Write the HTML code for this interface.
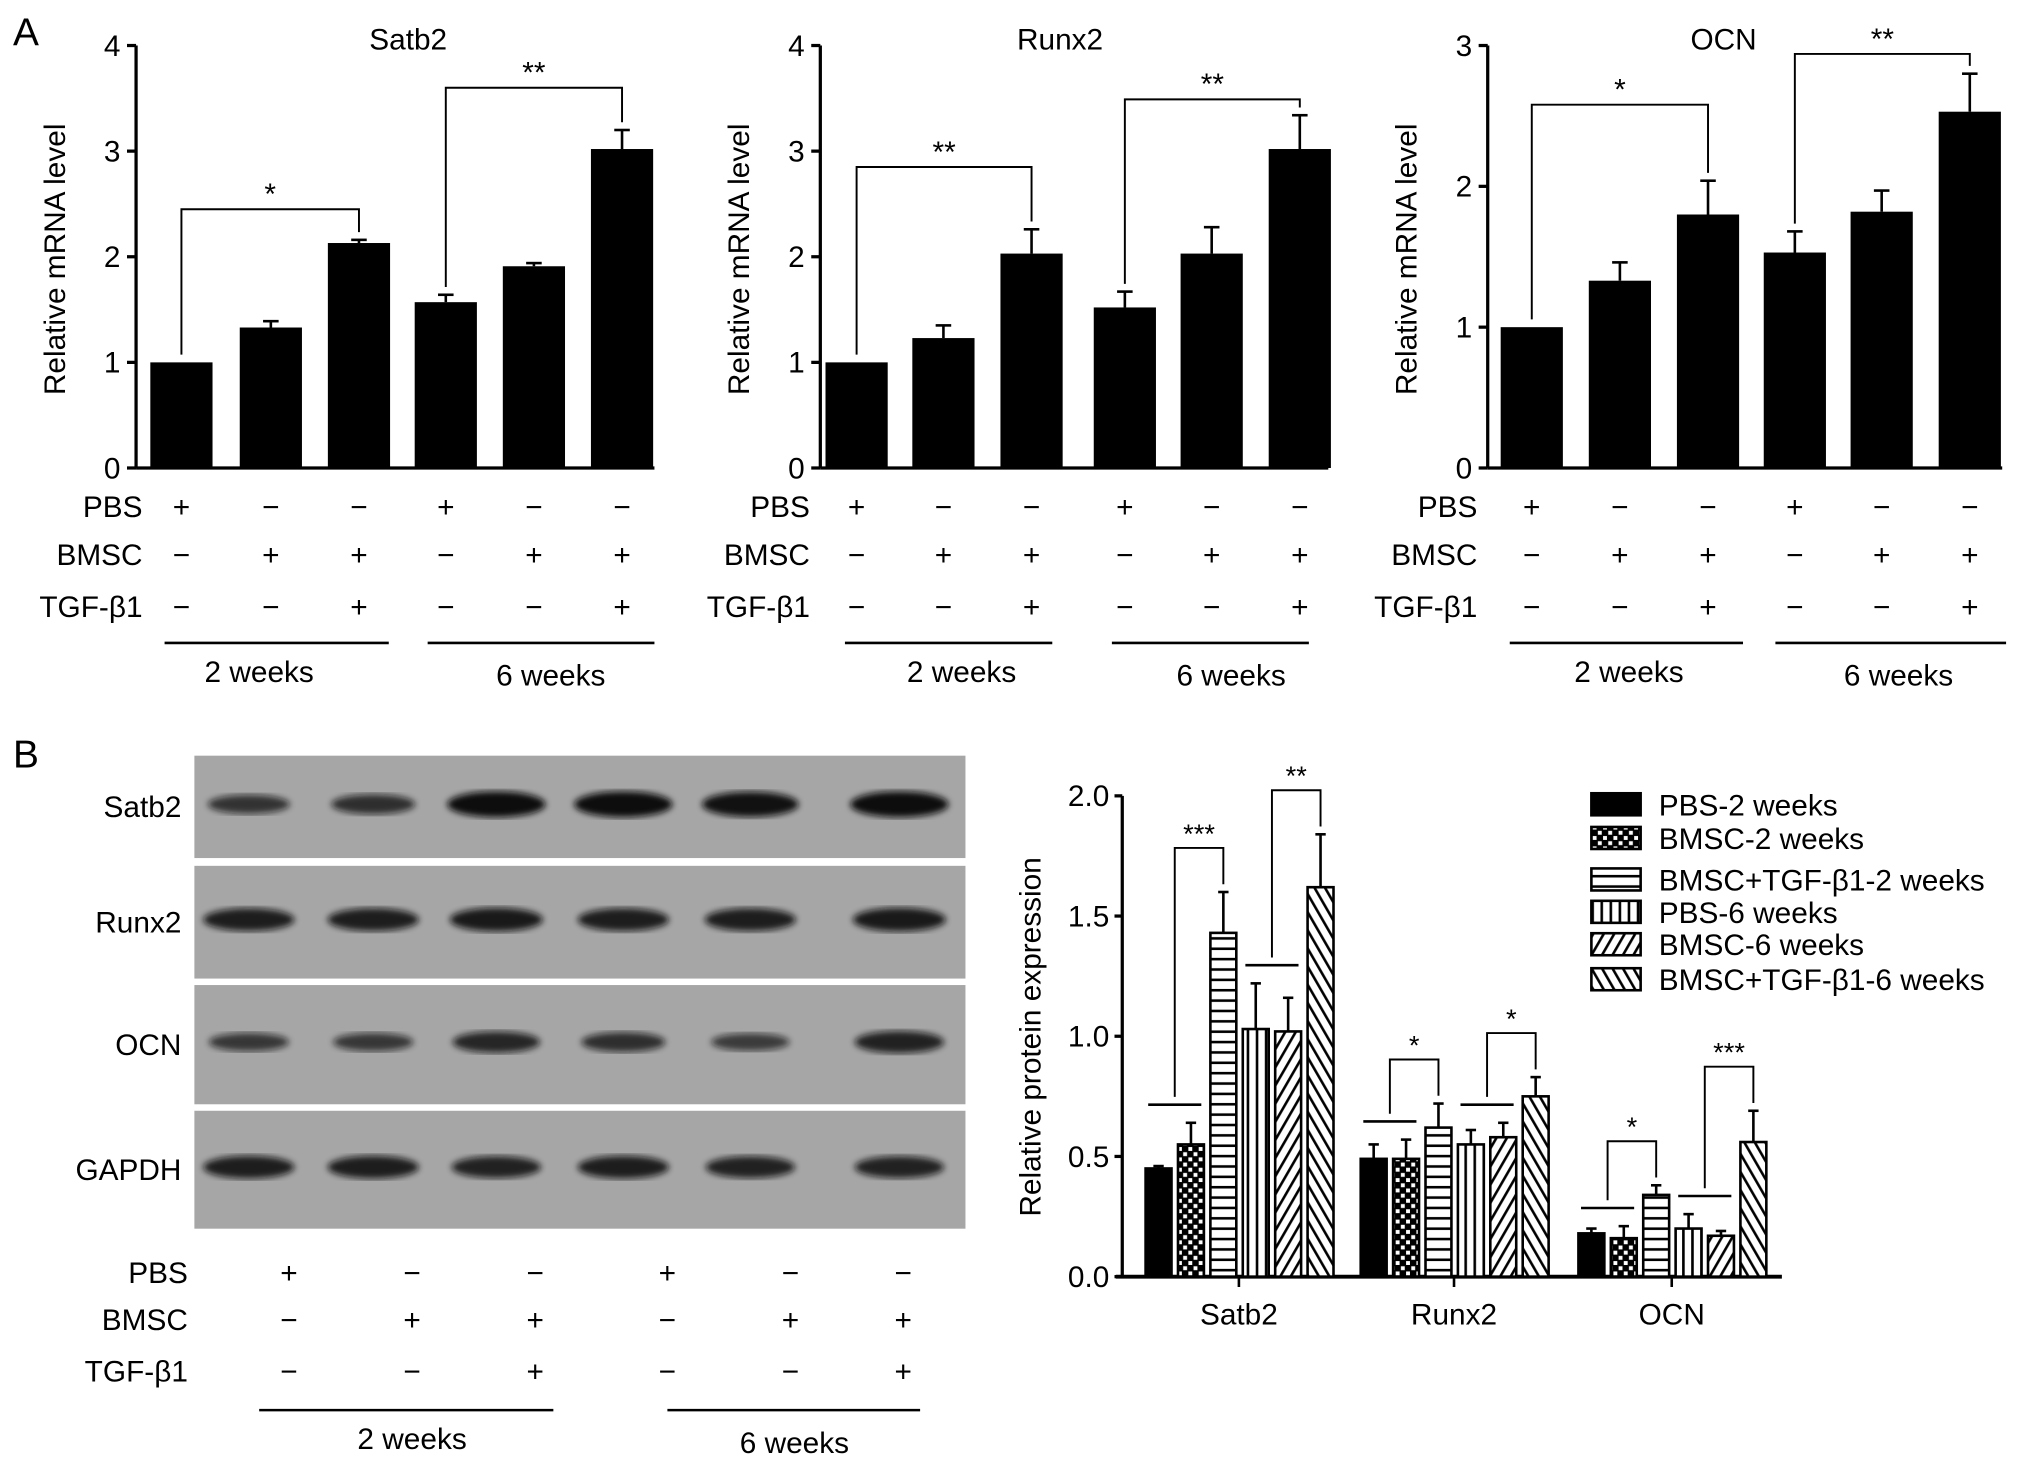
<!DOCTYPE html>
<html><head><meta charset="utf-8"><style>
html,body{margin:0;padding:0;background:#fff}
svg{display:block;font-family:"Liberation Sans",sans-serif}
</style></head><body>
<svg id="fig" width="2032" height="1466" viewBox="0 0 1568 1131" xmlns="http://www.w3.org/2000/svg">
<defs>
<pattern id="pChk" width="8" height="8" patternUnits="userSpaceOnUse"><rect width="8" height="8" fill="#000"/><rect x="1" y="1" width="3" height="3" fill="#fff"/><rect x="5" y="5" width="3" height="3" fill="#fff"/></pattern>
<pattern id="pH" width="8" height="8" patternUnits="userSpaceOnUse"><rect width="8" height="8" fill="#fff"/><rect y="3" width="8" height="2" fill="#000"/></pattern>
<pattern id="pV" width="7" height="8" patternUnits="userSpaceOnUse"><rect width="7" height="8" fill="#fff"/><rect x="3" width="2" height="8" fill="#000"/></pattern>
<pattern id="pD1" width="7" height="7" patternUnits="userSpaceOnUse" patternTransform="rotate(30)"><rect width="7" height="7" fill="#fff"/><rect x="3" width="2" height="7" fill="#000"/></pattern>
<pattern id="pD2" width="7" height="7" patternUnits="userSpaceOnUse" patternTransform="rotate(-30)"><rect width="7" height="7" fill="#fff"/><rect x="3" width="2" height="7" fill="#000"/></pattern>
<filter id="blur"><feGaussianBlur stdDeviation="2.5"/></filter>
</defs>
<text x="10" y="35" font-size="30">A</text>
<text x="10" y="592" font-size="30">B</text>
<g id="gA"></g>
<g id="gBlot"></g>
<g id="gB"></g>
</svg>
<script>
// ---- Panel A data ----
const mrnaTitles = ["Satb2","Runx2","OCN"];
const satb2Vals = [1, 1.33, 2.13, 1.57, 1.91, 3.02];
const satb2Err = [0, 0.06, 0.03, 0.07, 0.03, 0.18];
const runx2Vals = [1, 1.23, 2.03, 1.52, 2.03, 3.02];
const runx2Err = [0, 0.12, 0.23, 0.15, 0.25, 0.32];
const ocnVals = [1, 1.33, 1.80, 1.53, 1.82, 2.53];
const ocnErr = [0, 0.13, 0.24, 0.15, 0.15, 0.27];
const satb2Ticks = [0,1,2,3,4];
const runx2Ticks = [0,1,2,3,4];
const ocnTicks = [0,1,2,3];
const pbsSigns = ["+","\u2212","\u2212","+","\u2212","\u2212"];
const bmscSigns = ["\u2212","+","+","\u2212","+","+"];
const tgfSigns = ["\u2212","\u2212","+","\u2212","\u2212","+"];
// [label, fromBar, toBar, bracket level in data units]
const satb2Sig = [["*",0,2,2.45],["**",3,5,3.6]];
const runx2Sig = [["**",0,2,2.85],["**",3,5,3.49]];
const ocnSig = [["*",0,2,2.58],["**",3,5,2.94]];
// ---- Panel B data ----
const protCats = ["Satb2","Runx2","OCN"];
const protSeries = ["PBS-2 weeks","BMSC-2 weeks","BMSC+TGF-\u03b21-2 weeks","PBS-6 weeks","BMSC-6 weeks","BMSC+TGF-\u03b21-6 weeks"];
const protSatb2 = [0.45, 0.55, 1.43, 1.03, 1.02, 1.62];
const protSatb2Err = [0.01, 0.09, 0.17, 0.19, 0.14, 0.22];
const protRunx2 = [0.49, 0.49, 0.62, 0.55, 0.58, 0.75];
const protRunx2Err = [0.06, 0.08, 0.10, 0.06, 0.06, 0.08];
const protOcn = [0.18, 0.16, 0.34, 0.20, 0.17, 0.56];
const protOcnErr = [0.02, 0.05, 0.04, 0.06, 0.02, 0.13];
const protTicks = [0, 0.5, 1.0, 1.5, 2.0];
const protSig = [["***","**"],["*","*"],["*","***"]];
const blotRows = ["Satb2","Runx2","OCN","GAPDH"];
const blotIntensity = [[0.55,0.6,1,1,0.95,1],[0.8,0.8,0.85,0.8,0.8,0.85],[0.5,0.5,0.7,0.6,0.45,0.75],[0.8,0.8,0.75,0.8,0.75,0.75]];

const NS="http://www.w3.org/2000/svg";
function mk(parent,tag,attrs,text){const e=document.createElementNS(NS,tag);for(const k in attrs)e.setAttribute(k,attrs[k]);if(text!==undefined)e.textContent=text;parent.appendChild(e);return e;}
const FS=23;

// ---- Panel A charts ----
const gA=document.getElementById('gA');
const aCfg=[
 {ax:105,xs:[140,209,277,344,412,480],xe:505,max:4,vals:satb2Vals,err:satb2Err,ticks:satb2Ticks,sig:satb2Sig,lbl:110,lines:[[127,300,200],[330,505,425]],tx:315},
 {ax:633,xs:[661,728,796,868,935,1003],xe:1025,max:4,vals:runx2Vals,err:runx2Err,ticks:runx2Ticks,sig:runx2Sig,lbl:625,lines:[[652,812,742],[858,1010,950]],tx:818},
 {ax:1148,xs:[1182,1250,1318,1385,1452,1520],xe:1545,max:3,vals:ocnVals,err:ocnErr,ticks:ocnTicks,sig:ocnSig,lbl:1140,lines:[[1165,1345,1257],[1370,1548,1465]],tx:1330}
];
aCfg.forEach((c,ci)=>{
  const g=mk(gA,'g',{});
  
  
  const y0=361,yT=35;
  const Y=v=>y0-(v/c.max)*(y0-yT);
  const t=mk(g,'text',{x:c.tx,y:38,'font-size':FS,'text-anchor':'middle'},mrnaTitles[ci]);
  
  
  const yl=mk(g,'text',{x:0,y:0,'font-size':FS,'text-anchor':'middle',transform:`translate(${c.ax-55},200) rotate(-90)`},'Relative mRNA level');
  
  
  mk(g,'line',{x1:c.ax,y1:yT,x2:c.ax,y2:y0,stroke:'#000','stroke-width':2.5});
  mk(g,'line',{x1:c.ax,y1:y0,x2:c.xe,y2:y0,stroke:'#000','stroke-width':2.5});
  c.ticks.forEach(tv=>{
    mk(g,'line',{x1:c.ax-7,y1:Y(tv),x2:c.ax,y2:Y(tv),stroke:'#000','stroke-width':2.5});
    const tl=mk(g,'text',{x:c.ax-12,y:Y(tv)+8,'font-size':FS,'text-anchor':'end'},String(tv));
    
    
  });
  c.vals.forEach((v,i)=>{
    const x=c.xs[i];
    if(c.err[i]>0){mk(g,'line',{x1:x,y1:Y(v),x2:x,y2:Y(v+c.err[i]),stroke:'#000','stroke-width':2});mk(g,'line',{x1:x-6,y1:Y(v+c.err[i]),x2:x+6,y2:Y(v+c.err[i]),stroke:'#000','stroke-width':2});}
    const b=mk(g,'rect',{x:x-24,y:Y(v),width:48,height:y0-Y(v),fill:'#000'});
    
    
  });
  c.sig.forEach(s=>{
    const a=s[1],b=s[2];
    const ta=Y(c.vals[a]+c.err[a])-6, tb=Y(c.vals[b]+c.err[b])-6;
    const top=Y(s[3]);
    mk(g,'polyline',{points:`${c.xs[a]},${ta} ${c.xs[a]},${top} ${c.xs[b]},${top} ${c.xs[b]},${tb}`,fill:'none',stroke:'#000','stroke-width':1.5});
    const st=mk(g,'text',{x:(c.xs[a]+c.xs[b])/2,y:top-4,'font-size':FS,'text-anchor':'middle'},s[0]);
    
    
  });
  [["PBS",pbsSigns,399],["BMSC",bmscSigns,436],["TGF-\u03b21",tgfSigns,476]].forEach(r=>{
    const rl=mk(g,'text',{x:c.lbl,y:r[2],'font-size':FS,'text-anchor':'end'},r[0]);
    
    
    r[1].forEach((s,i)=>mk(g,'text',{x:c.xs[i],y:r[2],'font-size':FS,'text-anchor':'middle'},s));
  });
  c.lines.forEach((l,li)=>{
    mk(g,'line',{x1:l[0],y1:496,x2:l[1],y2:496,stroke:'#000','stroke-width':2});
    const wl=mk(g,'text',{x:l[2],y:li?529:526,'font-size':FS,'text-anchor':'middle'},li?'6 weeks':'2 weeks');
    
    
  });
});

// ---- Western blot ----
const gBl=document.getElementById('gBlot');
const rowsY=[[583,662],[668,755],[760,852],[857,948]];
const bandX=[192,288,383,481,579,694];
blotRows.forEach((n,ri)=>{
  const [a,b]=rowsY[ri];
  const r=mk(gBl,'rect',{x:150,y:a,width:595,height:b-a,fill:'#a6a6a6'});
  
  
  const lab=mk(gBl,'text',{x:140,y:(a+b)/2+8,'font-size':FS,'text-anchor':'end'},n);
  
  
  blotIntensity[ri].forEach((k,i)=>{
    const cy=(a+b)/2-2, w=24+k*14, h=8+k*12;
    mk(gBl,'ellipse',{cx:bandX[i],cy:cy,rx:w,ry:h/2,fill:'#111',opacity:0.45+0.55*k,filter:'url(#blur)'});
  });
});
const sx=[223,318,413,515,610,697];
[["PBS",pbsSigns,990],["BMSC",bmscSigns,1026],["TGF-\u03b21",tgfSigns,1066]].forEach(r=>{
  const rl=mk(gBl,'text',{x:145,y:r[2],'font-size':FS,'text-anchor':'end'},r[0]);
  
  
  r[1].forEach((s,i)=>mk(gBl,'text',{x:sx[i],y:r[2],'font-size':FS,'text-anchor':'middle'},s));
});
mk(gBl,'line',{x1:200,y1:1088,x2:427,y2:1088,stroke:'#000','stroke-width':2});
mk(gBl,'line',{x1:515,y1:1088,x2:710,y2:1088,stroke:'#000','stroke-width':2});
mk(gBl,'text',{x:318,y:1118,'font-size':FS,'text-anchor':'middle'},'2 weeks');
mk(gBl,'text',{x:613,y:1121,'font-size':FS,'text-anchor':'middle'},'6 weeks');

// ---- Panel B bar chart ----
const gB=document.getElementById('gB');
const bx0=866,by0=985,byT=614,bxe=1375;
const BY=v=>by0-(v/2)*(by0-byT);
const groupCenters=[956,1122,1290];
const barOff=[-62,-37,-12,13,38,63];
const fills=['#000','url(#pChk)','url(#pH)','url(#pV)','url(#pD1)','url(#pD2)'];
const pVals=[protSatb2,protRunx2,protOcn], pErr=[protSatb2Err,protRunx2Err,protOcnErr];
mk(gB,'line',{x1:bx0,y1:byT,x2:bx0,y2:by0,stroke:'#000','stroke-width':2.5});
mk(gB,'line',{x1:bx0-5,y1:by0,x2:bxe,y2:by0,stroke:'#000','stroke-width':3});
protTicks.forEach(tv=>{
  mk(gB,'line',{x1:bx0-6,y1:BY(tv),x2:bx0,y2:BY(tv),stroke:'#000','stroke-width':2.5});
  const tl=mk(gB,'text',{x:bx0-10,y:BY(tv)+8,'font-size':FS,'text-anchor':'end'},tv.toFixed(1));
  
  
});
const yt=mk(gB,'text',{x:0,y:0,'font-size':FS,'text-anchor':'middle',transform:'translate(803,800) rotate(-90)'},'Relative protein expression');


protCats.forEach((cat,gi)=>{
  const gc=groupCenters[gi];
  mk(gB,'line',{x1:gc,y1:by0,x2:gc,y2:by0+8,stroke:'#000','stroke-width':2});
  const cl=mk(gB,'text',{x:gc,y:1022,'font-size':FS,'text-anchor':'middle'},cat);
  
  
  pVals[gi].forEach((v,i)=>{
    const x=gc+barOff[i], e=pErr[gi][i];
    mk(gB,'line',{x1:x,y1:BY(v),x2:x,y2:BY(v+e),stroke:'#000','stroke-width':2});
    mk(gB,'line',{x1:x-4,y1:BY(v+e),x2:x+4,y2:BY(v+e),stroke:'#000','stroke-width':2});
    const b=mk(gB,'rect',{x:x-10,y:BY(v),width:20,height:by0-BY(v),fill:fills[i],stroke:'#000','stroke-width':2});
    
    
  });
  [[0,1,2],[3,4,5]].forEach((tr,k)=>{
    const xa=gc+barOff[tr[0]], xb=gc+barOff[tr[1]], xc=gc+barOff[tr[2]];
    const hv=Math.max(pVals[gi][tr[0]]+pErr[gi][tr[0]],pVals[gi][tr[1]]+pErr[gi][tr[1]]);
    const hy=BY(hv)-14;
    mk(gB,'line',{x1:xa-8,y1:hy,x2:xb+8,y2:hy,stroke:'#000','stroke-width':2});
    const mid=(xa+xb)/2;
    const topC=BY(pVals[gi][tr[2]]+pErr[gi][tr[2]])-6;
    const top=Math.min(hy,topC)-28;
    mk(gB,'polyline',{points:`${mid},${hy-6} ${mid},${top} ${xc},${top} ${xc},${topC}`,fill:'none',stroke:'#000','stroke-width':1.5});
    const st=mk(gB,'text',{x:(mid+xc)/2,y:top-4,'font-size':21,'text-anchor':'middle'},protSig[gi][k]);
    
    
  });
});
const legY=[621,647,679,704,729,756];
protSeries.forEach((s,i)=>{
  const lg=mk(gB,'g',{});
  
  
  mk(lg,'rect',{x:1228,y:legY[i]-9,width:38,height:17,fill:fills[i],stroke:'#000','stroke-width':2});
  mk(lg,'text',{x:1280,y:legY[i]+8,'font-size':FS},s);
});
</script>
</body></html>
